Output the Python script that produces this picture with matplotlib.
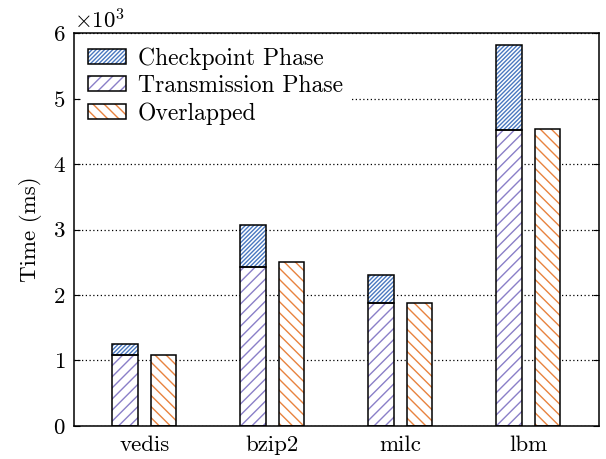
import matplotlib
matplotlib.use("Agg")
import matplotlib.pyplot as plt
import numpy as np
from matplotlib.patches import Patch
from matplotlib.ticker import ScalarFormatter, MultipleLocator

plt.rcParams["font.family"] = ["cmr10", "DejaVu Serif"]
plt.rcParams["mathtext.fontset"] = "cm"
plt.rcParams["axes.formatter.use_mathtext"] = True
plt.rcParams["hatch.linewidth"] = 1.0

# Benchmarks and times in milliseconds
benchmarks = ["vedis", "bzip2", "milc", "lbm"]
transmission = [1080, 2420, 1880, 4520]
checkpoint_total = [1250, 3070, 2310, 5820]
overlapped = [1090, 2510, 1870, 4540]
checkpoint = [c - t for c, t in zip(checkpoint_total, transmission)]

c_ckpt = "#4a78c0"
c_trans = "#8a7fc8"
c_over = "#e8833f"

h_ckpt = "/" * 8
h_trans = "///"
h_over = "\\" * 3

FS = 16.5

fig = plt.figure(figsize=(6.06, 4.59), dpi=100)
ax = fig.add_axes([0.122, 0.072, 0.866, 0.856])

x = np.arange(len(benchmarks))
w = 0.2
off = 0.15


def hatched_bar(xs, heights, bottoms, color, hatch):
    ax.bar(xs, heights, w, bottom=bottoms, color="white", edgecolor=color,
           hatch=hatch, linewidth=0, zorder=2)
    ax.bar(xs, heights, w, bottom=bottoms, fill=False, edgecolor="black",
           linewidth=1.1, zorder=3)


hatched_bar(x - off, transmission, 0, c_trans, h_trans)
hatched_bar(x - off, checkpoint, transmission, c_ckpt, h_ckpt)
hatched_bar(x + off, overlapped, 0, c_over, h_over)

ax.set_xlim(-0.55, 3.55)
ax.set_ylim(0, 6000)
ax.yaxis.set_major_locator(MultipleLocator(1000))
fmt = ScalarFormatter(useMathText=True)
fmt.set_powerlimits((0, 0))
ax.yaxis.set_major_formatter(fmt)
ax.yaxis.get_offset_text().set_fontsize(FS)

ax.set_xticks(x)
ax.set_xticklabels(benchmarks, fontsize=FS)
ax.tick_params(axis="x", length=0, pad=7)
ax.tick_params(axis="y", direction="in", right=True, labelsize=FS, length=4, pad=6)
ax.set_ylabel("Time (ms)", fontsize=FS, labelpad=8)

ax.set_axisbelow(True)
ax.yaxis.grid(True, linestyle=(0, (1, 2)), color="black", linewidth=0.9)
for s in ax.spines.values():
    s.set_linewidth(1.1)


def handle(color, hatch):
    return (Patch(facecolor="white", edgecolor=color, hatch=hatch, linewidth=0),
            Patch(fill=False, edgecolor="black", linewidth=1.1))


leg = ax.legend([handle(c_ckpt, h_ckpt), handle(c_trans, h_trans), handle(c_over, h_over)],
                ["Checkpoint Phase", "Transmission Phase", "Overlapped"],
                loc="upper left", fontsize=17, frameon=True, fancybox=False,
                framealpha=1, edgecolor="none", facecolor="white",
                handlelength=1.6, handleheight=0.6, handletextpad=0.5,
                labelspacing=0.22, borderaxespad=0.3, borderpad=0.3)

fig.savefig("out.png", dpi=100)
